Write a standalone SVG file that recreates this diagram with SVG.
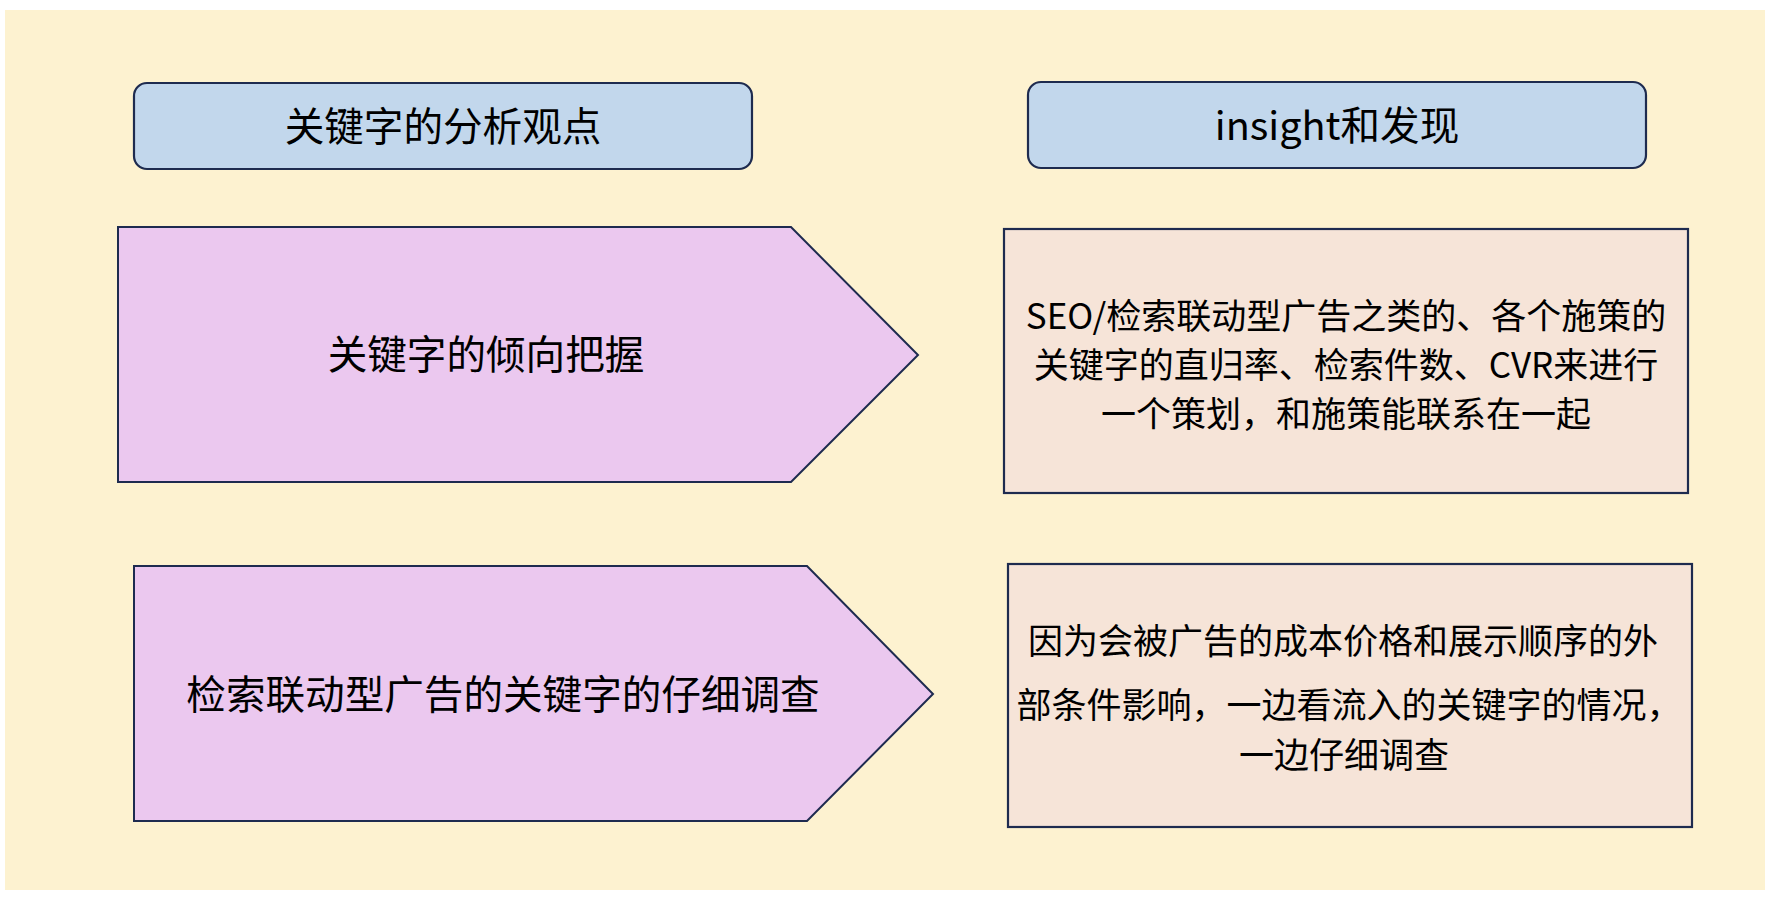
<svg xmlns="http://www.w3.org/2000/svg" width="1772" height="902" viewBox="0 0 1772 902">
<style>
.hdr{fill:#C2D7EC;stroke:#1E2B4F;stroke-width:2.2}
.pent{fill:#EBC8EF;stroke:#1E2B4F;stroke-width:2}
.box{fill:#F6E4D8;stroke:#1E2B4F;stroke-width:2.2}
text{font-family:"Noto Sans CJK SC","Noto Sans",sans-serif;fill:#000;text-anchor:middle;dominant-baseline:central}
.t1{font-size:39.6px}
.t2{font-size:39.6px}
.t3{font-size:35px}
</style>
<rect x="5" y="10" width="1760" height="880" fill="#FDF2D0"/>
<g id="header-left">
<rect class="hdr" x="134" y="83" width="618" height="86" rx="13"/>
<text class="t1" x="443" y="123">关键字的分析观点</text>
</g>
<g id="header-right">
<rect class="hdr" x="1028" y="82" width="618" height="86" rx="13"/>
<text class="t1" x="1337" y="122">insight和发现</text>
</g>
<g id="pentagon-1">
<polygon class="pent" points="118,227 791,227 918,355 791,482 118,482"/>
<text class="t2" x="486" y="351">关键字的倾向把握</text>
</g>
<g id="pentagon-2">
<polygon class="pent" points="134,566 807,566 933,694 807,821 134,821"/>
<text class="t2" x="503" y="691">检索联动型广告的关键字的仔细调查</text>
</g>
<g id="box-1">
<rect class="box" x="1004" y="229" width="684" height="264"/>
<text class="t3" x="1346" y="313">SEO/检索联动型广告之类的、各个施策的</text>
<text class="t3" x="1346" y="362">关键字的直归率、检索件数、CVR来进行</text>
<text class="t3" x="1346" y="411">一个策划，和施策能联系在一起</text>
</g>
<g id="box-2">
<rect class="box" x="1008" y="564" width="684" height="263"/>
<text class="t3" x="1343" y="638">因为会被广告的成本价格和展示顺序的外</text>
<text class="t3" x="1349" y="702">部条件影响，一边看流入的关键字的情况，</text>
<text class="t3" x="1344" y="752">一边仔细调查</text>
</g>
<g id="connectors"></g>
</svg>
